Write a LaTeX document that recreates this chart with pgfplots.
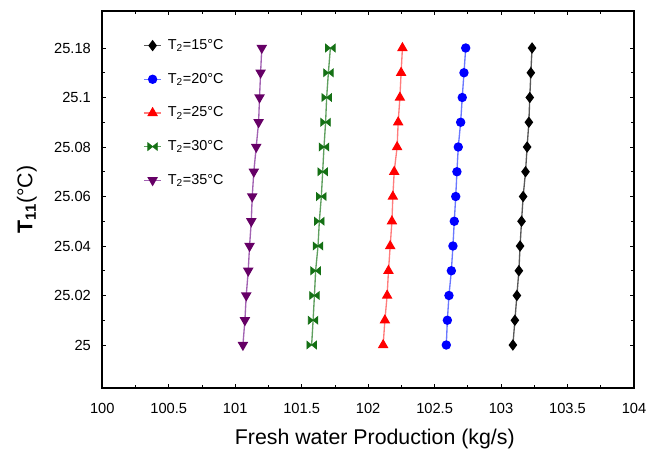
\documentclass[border=0pt]{standalone}
\usepackage{fontspec}
\setmainfont{Liberation Sans}
\usepackage{pgfplots}
\usepackage{pgfplotstable}
\pgfplotsset{compat=1.18}

% bow-tie marker (two triangles meeting at the centre)
\pgfdeclareplotmark{bowtie}{%
  \pgfpathmoveto{\pgfqpoint{-\pgfplotmarksize}{0.8\pgfplotmarksize}}%
  \pgfpathlineto{\pgfqpoint{\pgfplotmarksize}{-0.8\pgfplotmarksize}}%
  \pgfpathlineto{\pgfqpoint{\pgfplotmarksize}{0.8\pgfplotmarksize}}%
  \pgfpathlineto{\pgfqpoint{-\pgfplotmarksize}{-0.8\pgfplotmarksize}}%
  \pgfpathclose
  \pgfusepathqfillstroke}

\definecolor{cpurple}{HTML}{660066}
\definecolor{lpurple}{HTML}{A262B2}
\definecolor{cgreen}{HTML}{147014}
\definecolor{lgreen}{HTML}{5FA05F}
\definecolor{lred}{HTML}{FF7C7C}
\definecolor{lblue}{HTML}{6A78FF}

\pgfplotstableread{
y      t15      t20      t25      t30      t35
25.00  103.089  102.588  102.113  101.575  101.058
25.01  103.104  102.596  102.126  101.586  101.073
25.02  103.119  102.608  102.143  101.596  101.083
25.03  103.134  102.626  102.153  101.605  101.098
25.04  103.143  102.638  102.166  101.623  101.108
25.05  103.154  102.648  102.179  101.633  101.121
25.06  103.166  102.659  102.186  101.648  101.128
25.07  103.184  102.668  102.196  101.658  101.140
25.08  103.196  102.678  102.218  101.668  101.158
25.09  103.209  102.696  102.226  101.680  101.176
25.10  103.216  102.708  102.239  101.688  101.183
25.11  103.224  102.721  102.248  101.701  101.191
25.12  103.233  102.734  102.258  101.716  101.200
}\datatable

\begin{document}
\begin{tikzpicture}
\useasboundingbox (-76.7pt,-46.5pt) rectangle (412.3pt,291pt);
\begin{axis}[
    at={(0,0)}, anchor=south west,
    scale only axis,
    width=398.8pt, height=282.75pt,
    xmin=100, xmax=104,
    ymin=24.98263, ymax=25.13495,
    xtick={100,100.5,101,101.5,102,102.5,103,103.5,104},
    xticklabels={100,100.5,101,101.5,102,102.5,103,103.5,104},
    minor x tick num=1,
    ytick={25,25.02,25.04,25.06,25.08,25.1,25.12},
    yticklabels={25,25.02,25.04,25.06,25.08,25.1,25.18},
    minor y tick num=1,
    tick align=inside,
    major tick length=3pt, minor tick length=2pt,
    every tick/.style={black, line width=0.6pt},
    axis line style={line width=1.2pt},
    tick label style={font=\fontsize{11}{13}\selectfont},
    xticklabel style={yshift=-8pt},
    yticklabel style={xshift=-5pt},
    xlabel={Fresh water Production (kg/s)},
    xlabel style={font=\fontsize{16}{19}\selectfont, at={(axis description cs:0.5,0)}, anchor=center, yshift=-38.5pt, xshift=5pt},
    ylabel={\textbf{T\textsubscript{11}}(°C)},
    ylabel style={font=\fontsize{16}{19}\selectfont, at={(axis description cs:-0.1417,0.5)}, anchor=center},
    legend style={at={(axis description cs:0.069,0.939)}, anchor=north west,
        draw=none, fill=none, font=\fontsize{10.8}{13}\selectfont, row sep=12.2pt},
    legend cell align=left,
    legend image code/.code={%
        \draw[mark repeat=2,mark phase=2] plot coordinates {(0cm,0cm) (0.23cm,0cm) (0.46cm,0cm)};},
]
\addplot[color=black!65, line width=1pt, mark=diamond*, mark size=3.5pt,
    mark options={draw=black, fill=black, solid}] table[x=t15, y=y] {\datatable};
\addlegendentry{\hspace{2.4pt}T\textsubscript{2}=15°C}
\addplot[color=lblue, line width=1pt, mark=*, mark size=3pt,
    mark options={draw=blue, fill=blue, solid}] table[x=t20, y=y] {\datatable};
\addlegendentry{\hspace{2.4pt}T\textsubscript{2}=20°C}
\addplot[color=lred, line width=1pt, mark=triangle*, mark size=3.6pt,
    mark options={draw=red, fill=red, solid}] table[x=t25, y=y] {\datatable};
\addlegendentry{\hspace{2.4pt}T\textsubscript{2}=25°C}
\addplot[color=lgreen, line width=1pt, mark=bowtie, mark size=3.6pt,
    mark options={draw=cgreen, fill=cgreen, solid, line width=0.5pt}] table[x=t30, y=y] {\datatable};
\addlegendentry{\hspace{2.4pt}T\textsubscript{2}=30°C}
\addplot[color=lpurple, line width=1pt, mark=triangle*, mark size=3.6pt,
    mark options={draw=cpurple, fill=cpurple, solid, rotate=180}] table[x=t35, y=y] {\datatable};
\addlegendentry{\hspace{2.4pt}T\textsubscript{2}=35°C}
\end{axis}
\end{tikzpicture}
\end{document}
